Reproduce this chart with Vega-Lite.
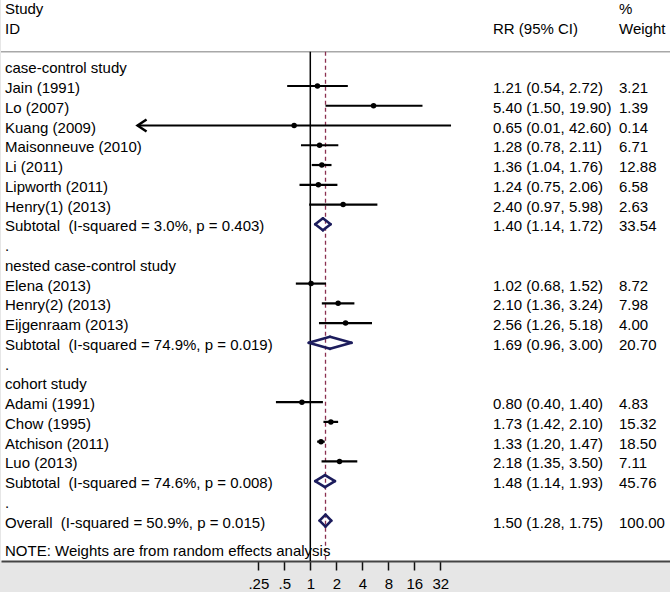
{
  "$schema": "https://vega.github.io/schema/vega-lite/v6.json",
  "width": 670,
  "height": 561,
  "padding": {"left": 0, "right": 0, "top": 0, "bottom": 1},
  "autosize": {"type": "pad"},
  "background": "#e6e6e6",
  "view": {"fill": "white", "stroke": null},
  "config": {
    "text": {"font": "Liberation Sans", "fontSize": 15, "color": "#000000", "baseline": "middle", "align": "left", "dy": 2},
    "axis": {"labelFont": "Liberation Sans", "labelFontSize": 15, "labelColor": "#000000", "grid": false, "domainColor": "#444444", "domainWidth": 2, "tickColor": "#111111", "tickWidth": 1.5, "tickSize": 9, "labelPadding": 6, "labelFlush": false, "labelOverlap": false, "title": null}
  },
  "data": {
    "values": [
      {"row": -2, "label": "Study", "type": "header", "wttext": "%"},
      {"row": -1, "label": "ID", "type": "header", "rrtext": "RR (95% CI)", "wttext": "Weight"},
      {"row": 1, "label": "case-control study", "type": "group"},
      {"row": 2, "label": "Jain (1991)", "type": "study", "rr": 1.21, "lo": 0.54, "hi": 2.72, "rrtext": "1.21 (0.54, 2.72)", "wttext": "3.21"},
      {"row": 3, "label": "Lo (2007)", "type": "study", "rr": 5.40, "lo": 1.50, "hi": 19.90, "rrtext": "5.40 (1.50, 19.90)", "wttext": "1.39"},
      {"row": 4, "label": "Kuang (2009)", "type": "study", "rr": 0.65, "lo": 0.01, "hi": 42.60, "rrtext": "0.65 (0.01, 42.60)", "wttext": "0.14"},
      {"row": 5, "label": "Maisonneuve (2010)", "type": "study", "rr": 1.28, "lo": 0.78, "hi": 2.11, "rrtext": "1.28 (0.78, 2.11)", "wttext": "6.71"},
      {"row": 6, "label": "Li (2011)", "type": "study", "rr": 1.36, "lo": 1.04, "hi": 1.76, "rrtext": "1.36 (1.04, 1.76)", "wttext": "12.88"},
      {"row": 7, "label": "Lipworth (2011)", "type": "study", "rr": 1.24, "lo": 0.75, "hi": 2.06, "rrtext": "1.24 (0.75, 2.06)", "wttext": "6.58"},
      {"row": 8, "label": "Henry(1) (2013)", "type": "study", "rr": 2.40, "lo": 0.97, "hi": 5.98, "rrtext": "2.40 (0.97, 5.98)", "wttext": "2.63"},
      {"row": 9, "label": "Subtotal\u00a0 (I-squared = 3.0%, p = 0.403)", "type": "subtotal", "rr": 1.40, "lo": 1.14, "hi": 1.72, "rrtext": "1.40 (1.14, 1.72)", "wttext": "33.54"},
      {"row": 10, "label": ".", "type": "blank"},
      {"row": 11, "label": "nested case-control study", "type": "group"},
      {"row": 12, "label": "Elena (2013)", "type": "study", "rr": 1.02, "lo": 0.68, "hi": 1.52, "rrtext": "1.02 (0.68, 1.52)", "wttext": "8.72"},
      {"row": 13, "label": "Henry(2) (2013)", "type": "study", "rr": 2.10, "lo": 1.36, "hi": 3.24, "rrtext": "2.10 (1.36, 3.24)", "wttext": "7.98"},
      {"row": 14, "label": "Eijgenraam (2013)", "type": "study", "rr": 2.56, "lo": 1.26, "hi": 5.18, "rrtext": "2.56 (1.26, 5.18)", "wttext": "4.00"},
      {"row": 15, "label": "Subtotal\u00a0 (I-squared = 74.9%, p = 0.019)", "type": "subtotal", "rr": 1.69, "lo": 0.96, "hi": 3.00, "rrtext": "1.69 (0.96, 3.00)", "wttext": "20.70"},
      {"row": 16, "label": ".", "type": "blank"},
      {"row": 17, "label": "cohort study", "type": "group"},
      {"row": 18, "label": "Adami (1991)", "type": "study", "rr": 0.80, "lo": 0.40, "hi": 1.40, "rrtext": "0.80 (0.40, 1.40)", "wttext": "4.83"},
      {"row": 19, "label": "Chow (1995)", "type": "study", "rr": 1.73, "lo": 1.42, "hi": 2.10, "rrtext": "1.73 (1.42, 2.10)", "wttext": "15.32"},
      {"row": 20, "label": "Atchison (2011)", "type": "study", "rr": 1.33, "lo": 1.20, "hi": 1.47, "rrtext": "1.33 (1.20, 1.47)", "wttext": "18.50"},
      {"row": 21, "label": "Luo (2013)", "type": "study", "rr": 2.18, "lo": 1.35, "hi": 3.50, "rrtext": "2.18 (1.35, 3.50)", "wttext": "7.11"},
      {"row": 22, "label": "Subtotal\u00a0 (I-squared = 74.6%, p = 0.008)", "type": "subtotal", "rr": 1.48, "lo": 1.14, "hi": 1.93, "rrtext": "1.48 (1.14, 1.93)", "wttext": "45.76"},
      {"row": 23, "label": ".", "type": "blank"},
      {"row": 24, "label": "Overall\u00a0 (I-squared = 50.9%, p = 0.015)", "type": "overall", "rr": 1.50, "lo": 1.28, "hi": 1.75, "rrtext": "1.50 (1.28, 1.75)", "wttext": "100.00"},
      {"row": 25.45, "label": "NOTE: Weights are from random effects analysis", "type": "note"}
    ]
  },
  "encoding": {
    "y": {"field": "row", "type": "quantitative", "scale": {"domain": [-2.352, 26.04], "reverse": true, "nice": false, "zero": false}, "axis": null}
  },
  "layer": [
    {
      "transform": [{"filter": "datum.type == 'overall'"}],
      "mark": {"type": "rule", "color": "#a8a8a8", "strokeWidth": 1.5},
      "encoding": {"y": {"datum": 0.264}}
    },
    {
      "transform": [{"filter": "datum.type == 'overall'"}],
      "mark": {"type": "rule", "color": "#000000", "strokeWidth": 1.5},
      "encoding": {
        "x": {"datum": 1, "type": "quantitative", "scale": {"type": "log", "base": 2, "domain": [0.00026236, 15004], "nice": false, "zero": false}},
        "y": {"datum": 0.264},
        "y2": {"datum": 26.04}
      }
    },
    {
      "transform": [{"filter": "datum.type == 'overall'"}],
      "mark": {"type": "rule", "color": "#8b3050", "strokeWidth": 1.3, "strokeDash": [4, 3]},
      "encoding": {
        "x": {"field": "rr", "type": "quantitative"},
        "y": {"datum": 0.264},
        "y2": {"datum": 26.04}
      }
    },
    {
      "transform": [{"filter": "datum.type == 'study'"}],
      "mark": {"type": "rule", "color": "#000000", "strokeWidth": 2.2},
      "encoding": {
        "x": {"field": "lo", "type": "quantitative", "title": null, "axis": {"values": [0.25, 0.5, 1, 2, 4, 8, 16, 32], "labelExpr": "replace(format(datum.value, ''), /^0\\./, '.')"}},
        "x2": {"field": "hi"}
      }
    },
    {
      "transform": [{"filter": "datum.type == 'study'"}],
      "mark": {"type": "point", "filled": true, "color": "#000000", "size": 30, "opacity": 1},
      "encoding": {"x": {"field": "rr", "type": "quantitative"}}
    },
    {
      "transform": [{"filter": "datum.label == 'Kuang (2009)'"}],
      "mark": {"type": "point", "filled": false, "color": "#000000", "strokeWidth": 2.5, "size": 144, "opacity": 1, "shape": "M1.5,-1L0,0L1.5,1"},
      "encoding": {"x": {"field": "lo", "type": "quantitative"}}
    },
    {
      "transform": [{"filter": "datum.type == 'subtotal' || datum.type == 'overall'"}],
      "mark": {"type": "rule", "color": "#1c1c5c", "strokeWidth": 2.6, "strokeCap": "round", "y2Offset": -6},
      "encoding": {"x": {"field": "lo", "type": "quantitative"}, "x2": {"field": "rr"}, "y2": {"field": "row"}}
    },
    {
      "transform": [{"filter": "datum.type == 'subtotal' || datum.type == 'overall'"}],
      "mark": {"type": "rule", "color": "#1c1c5c", "strokeWidth": 2.6, "strokeCap": "round", "y2Offset": 6},
      "encoding": {"x": {"field": "lo", "type": "quantitative"}, "x2": {"field": "rr"}, "y2": {"field": "row"}}
    },
    {
      "transform": [{"filter": "datum.type == 'subtotal' || datum.type == 'overall'"}],
      "mark": {"type": "rule", "color": "#1c1c5c", "strokeWidth": 2.6, "strokeCap": "round", "yOffset": -6},
      "encoding": {"x": {"field": "rr", "type": "quantitative"}, "x2": {"field": "hi"}, "y2": {"field": "row"}}
    },
    {
      "transform": [{"filter": "datum.type == 'subtotal' || datum.type == 'overall'"}],
      "mark": {"type": "rule", "color": "#1c1c5c", "strokeWidth": 2.6, "strokeCap": "round", "yOffset": 6},
      "encoding": {"x": {"field": "rr", "type": "quantitative"}, "x2": {"field": "hi"}, "y2": {"field": "row"}}
    },
    {
      "mark": {"type": "text"},
      "encoding": {"x": {"datum": 0.00029189}, "text": {"field": "label"}}
    },
    {
      "transform": [{"filter": "isValid(datum.rrtext)"}],
      "mark": {"type": "text"},
      "encoding": {"x": {"datum": 130.41}, "text": {"field": "rrtext"}}
    },
    {
      "transform": [{"filter": "isValid(datum.wttext)"}],
      "mark": {"type": "text"},
      "encoding": {"x": {"datum": 3751}, "text": {"field": "wttext"}}
    }
  ]
}
